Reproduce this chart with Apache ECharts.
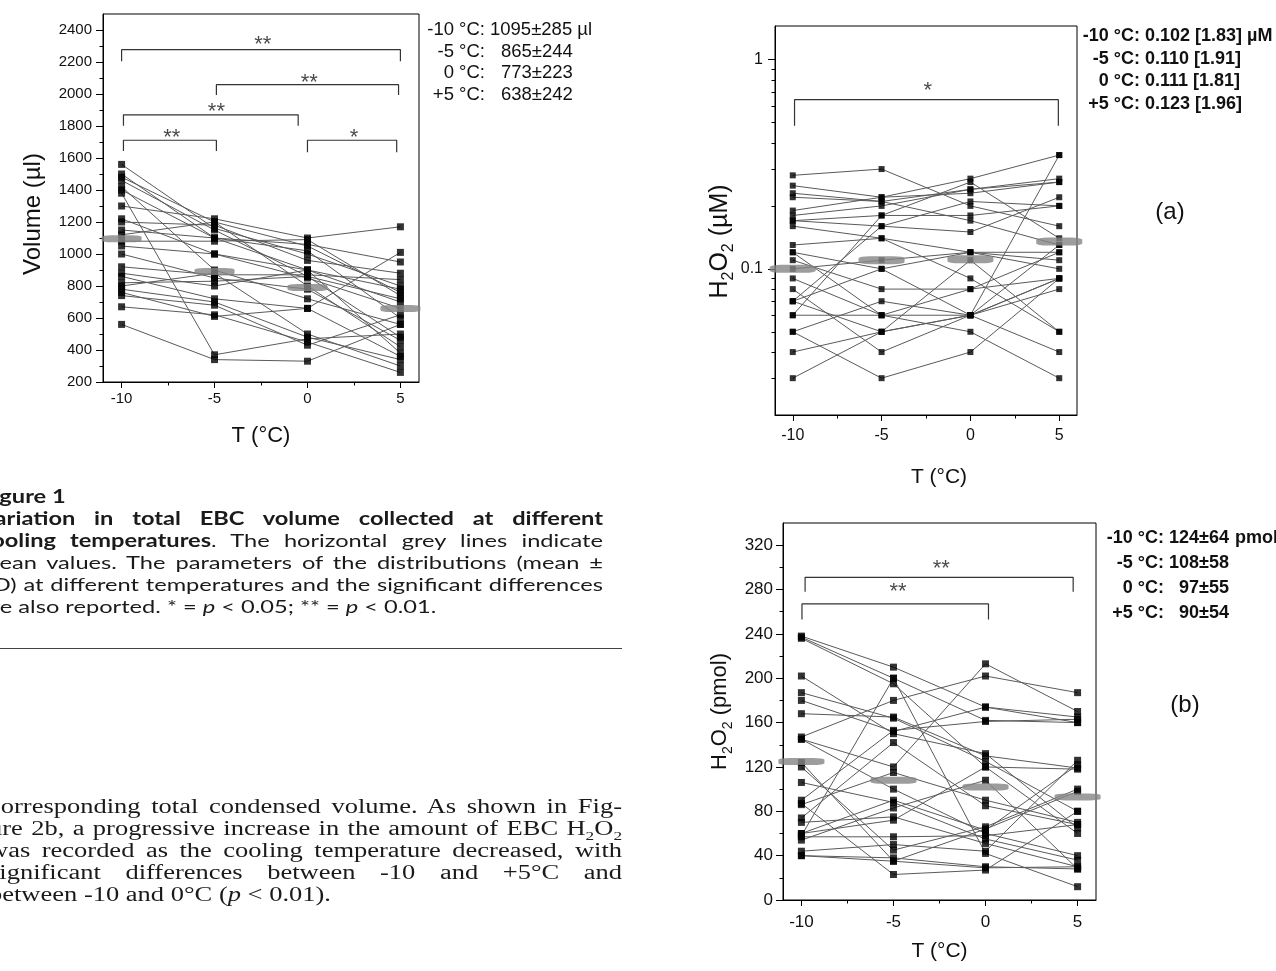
<!DOCTYPE html>
<html>
<head>
<meta charset="utf-8">
<script src="https://cdn.jsdelivr.net/npm/echarts@6/dist/echarts.min.js"></script>
<style>
  html, body { margin: 0; padding: 0; background: #fff; }
  #chart { position: absolute; left: 0; top: 0; width: 1276px; height: 971px; }
  .col { position: absolute; transform-origin: 0 0; color: #1a1a1a; }
  .ln { height: 22px; line-height: 22px; white-space: nowrap; }
  .cap { font-family: Lato, "Open Sans", sans-serif; font-size: 18px; top: 485px; left: -20px; }
  .txt { font-family: "Liberation Serif", "DejaVu Serif", serif; font-size: 20px; top: 795px; left: -11px; }
  #rule { position: absolute; left: 0; top: 648px; width: 622px; border-top: 1px solid #444; }
</style>
</head>
<body>
<div id="chart"></div>

<div class="col cap" id="cap" data-right="603" data-last="482">
  <div class="ln"><span><b>Figure 1</b></span></div>
  <div class="ln j"><span><b>Variation in total EBC volume collected at different</b></span></div>
  <div class="ln j"><span><b>cooling temperatures</b>. The horizontal grey lines indicate</span></div>
  <div class="ln j"><span>mean values. The parameters of the distributions (mean ±</span></div>
  <div class="ln j"><span>SD) at different temperatures and the significant differences</span></div>
  <div class="ln"><span>are also reported. * = <i>p</i> &lt; 0.05; ** = <i>p</i> &lt; 0.01.</span></div>
</div>
<div id="rule"></div>
<div class="col txt" id="txt" data-right="622" data-last="331">
  <div class="ln j"><span>corresponding total condensed volume. As shown in Fig-</span></div>
  <div class="ln j"><span>ure 2b, a progressive increase in the amount of EBC H<sub style="font-size:13px;line-height:0">2</sub>O<sub style="font-size:13px;line-height:0">2</sub></span></div>
  <div class="ln j"><span>was recorded as the cooling temperature decreased, with</span></div>
  <div class="ln j"><span>significant differences between -10 and +5°C and</span></div>
  <div class="ln"><span>between -10 and 0°C (<i>p</i> &lt; 0.01).</span></div>
</div>

<script>
// cooling temperatures (x positions)
const temps = [-10, -5, 0, 5];
const tempTicks = [-10, -5, 0, 5];
const tempMinorTicks = [-7.5, -2.5, 2.5];

// Fig 1: EBC volume (µl) per subject at -10, -5, 0, +5 °C
const volData = [
  [1560, 1160, 1000, 800],
  [1500, 1100, 900, 700],
  [1480, 1200, 1050, 760],
  [1460, 1150, 860, 480],
  [1420, 900, 720, 560],
  [1400, 1100, 1020, 600],
  [1380, 370, 470, 500],
  [1300, 1220, 1100, 1170],
  [1220, 1000, 900, 780],
  [1200, 1180, 960, 880],
  [1150, 1100, 1060, 950],
  [1120, 1200, 800, 420],
  [1080, 1080, 1090, 740],
  [1050, 1000, 850, 660],
  [1000, 850, 780, 460],
  [920, 870, 870, 840],
  [880, 800, 900, 380],
  [860, 720, 660, 1010],
  [820, 830, 860, 720],
  [800, 880, 500, 300],
  [780, 700, 480, 340],
  [760, 610, 660, 360],
  [740, 680, 430, 620],
  [670, 620, 450, 260],
  [560, 340, 330, 560]
];
const volMeans = [1095, 890, 790, 660];
const volTicks = [200, 400, 600, 800, 1000, 1200, 1400, 1600, 1800, 2000, 2200, 2400];
const volMinorTicks = [300, 500, 700, 900, 1100, 1300, 1500, 1700, 1900, 2100, 2300];
// [x from, x to, bracket top, leg end, star x, star y, mark]
const volBrackets = [
  [-10, 5, 2277, 2205, -2.4, 2340, '**'],
  [-4.9, 4.9, 2058, 1993, 0.1, 2100, '**'],
  [-9.9, -0.5, 1870, 1801, -4.9, 1920, '**'],
  [-9.9, -4.9, 1711, 1644, -7.3, 1759, '**'],
  [0, 4.8, 1711, 1636, 2.5, 1759, '*']
];
const volStatLabels = ['-10 °C:', '-5 °C:', '0 °C:', '+5 °C:'];
const volStatValues = ['1095±285 µl', '865±244', '773±223', '638±242'];

// Fig 2a: H2O2 concentration (µM), log scale
const concData = [
  [0.28, 0.30, 0.20, 0.16],
  [0.25, 0.22, 0.23, 0.26],
  [0.23, 0.21, 0.24, 0.27],
  [0.22, 0.21, 0.17, 0.13],
  [0.19, 0.22, 0.27, 0.35],
  [0.18, 0.20, 0.24, 0.26],
  [0.17, 0.18, 0.18, 0.20],
  [0.17, 0.16, 0.15, 0.22],
  [0.16, 0.14, 0.12, 0.10],
  [0.13, 0.14, 0.09, 0.05],
  [0.12, 0.10, 0.12, 0.12],
  [0.12, 0.06, 0.06, 0.09],
  [0.10, 0.11, 0.12, 0.11],
  [0.09, 0.06, 0.05, 0.03],
  [0.08, 0.04, 0.06, 0.35],
  [0.07, 0.16, 0.21, 0.20],
  [0.07, 0.10, 0.06, 0.09],
  [0.06, 0.06, 0.08, 0.09],
  [0.06, 0.18, 0.26, 0.14],
  [0.05, 0.07, 0.06, 0.04],
  [0.05, 0.03, 0.04, 0.09],
  [0.04, 0.05, 0.06, 0.08],
  [0.03, 0.05, 0.06, 0.13],
  [0.11, 0.08, 0.08, 0.12],
  [0.07, 0.05, 0.11, 0.05]
];
const concMeans = [0.100, 0.110, 0.111, 0.135];
const concTicks = [0.1, 1];
const concMinorTicks = [0.03, 0.04, 0.05, 0.06, 0.07, 0.08, 0.09, 0.2, 0.3, 0.4, 0.5, 0.6, 0.7, 0.8, 0.9];
const concBrackets = [
  [-9.9, 4.95, 0.644, 0.484, -2.4, 0.751, '*']
];
const concStatLabels = ['-10 °C:', '-5 °C:', '0 °C:', '+5 °C:'];
const concStatValues = ['0.102 [1.83] µM', '0.110 [1.91]', '0.111 [1.81]', '0.123 [1.96]'];

// Fig 2b: H2O2 amount (pmol)
const amountData = [
  [238, 210, 174, 160],
  [237, 200, 162, 160],
  [236, 195, 120, 60],
  [202, 150, 132, 65],
  [187, 164, 125, 80],
  [180, 152, 174, 165],
  [168, 165, 130, 119],
  [147, 180, 202, 187],
  [145, 120, 213, 170],
  [145, 100, 60, 40],
  [124, 35, 29, 30],
  [106, 88, 55, 36],
  [90, 153, 161, 163],
  [86, 115, 90, 70],
  [74, 142, 85, 68],
  [70, 75, 51, 30],
  [60, 90, 63, 122],
  [57, 57, 58, 68],
  [54, 83, 108, 28],
  [44, 50, 44, 126],
  [40, 38, 30, 28],
  [58, 200, 42, 12],
  [87, 23, 27, 80],
  [40, 35, 64, 98],
  [120, 45, 66, 100],
  [60, 72, 120, 118]
];
const amountMeans = [125, 108, 102, 93];
const amountTicks = [0, 40, 80, 120, 160, 200, 240, 280, 320];
const amountMinorTicks = [20, 60, 100, 140, 180, 220, 260, 300];
const amountBrackets = [
  [-9.8, 4.76, 291, 278, -2.4, 303, '**'],
  [-9.97, 0.16, 267, 253, -4.75, 282, '**']
];
const amountStatLabels = ['-10 °C:', '-5 °C:', '0 °C:', '+5 °C:'];
const amountStatValues = ['124±64', '108±58', '97±55', '90±54'];

const FONT = '"Liberation Sans", Arial, sans-serif';

function plain(v) { return String(v); }

function xAxes(gi, fs, margin, gap, nameSize, namePad) {
  return [{
    type: 'value', gridIndex: gi, min: -11, max: 6, position: 'bottom',
    axisLine: { show: true, onZero: false, lineStyle: { color: '#000', width: 1 } },
    axisTick: { show: true, customValues: tempTicks, length: 6, lineStyle: { color: '#000' } },
    axisLabel: { customValues: tempTicks, fontSize: fs, color: '#111', margin: margin, fontFamily: FONT, formatter: plain },
    splitLine: { show: false },
    name: 'T (°C)', nameLocation: 'middle', nameGap: gap,
    nameTextStyle: { fontSize: nameSize, color: '#111', fontFamily: FONT, padding: namePad }
  }, {
    type: 'value', gridIndex: gi, min: -11, max: 6, position: 'bottom',
    axisLine: { show: false, onZero: false },
    axisTick: { show: true, customValues: tempMinorTicks, length: 3.5, lineStyle: { color: '#000' } },
    axisLabel: { show: false }, splitLine: { show: false }
  }];
}

function yAxes(gi, type, min, max, ticks, minor, fs, margin, name, gap, nameSize, namePad, rich) {
  const base = { type: type, gridIndex: gi, min: min, max: max, position: 'left', splitLine: { show: false } };
  if (type === 'log') base.logBase = 10;
  const label = { customValues: ticks, fontSize: fs, color: '#111', margin: margin, fontFamily: FONT };
  if (type !== 'log') label.formatter = plain;
  return [Object.assign({}, base, {
    axisLine: { show: true, onZero: false, lineStyle: { color: '#000', width: 1 } },
    axisTick: { show: true, customValues: ticks, length: 7, lineStyle: { color: '#000' } },
    axisLabel: label,
    name: name, nameLocation: 'middle', nameGap: gap,
    nameTextStyle: Object.assign({ fontSize: nameSize, color: '#111', fontFamily: FONT, padding: namePad },
                                 rich ? { rich: rich } : {})
  }), Object.assign({}, base, {
    axisLine: { show: false, onZero: false },
    axisTick: { show: true, customValues: minor, length: 3.5, lineStyle: { color: '#000' } },
    axisLabel: { show: false }
  })];
}

function panelSeries(subjects, means, brackets, xi, yi, markSize, barSize, starSize) {
  const out = [];
  subjects.forEach(function (s) {
    out.push({
      type: 'line', xAxisIndex: xi, yAxisIndex: yi, silent: true, z: 2,
      symbol: 'none', lineStyle: { color: '#5a5a5a', width: 1 },
      data: temps.map(function (t, k) { return [t, s[k]]; })
    });
  });
  const pts = [];
  subjects.forEach(function (s) { temps.forEach(function (t, k) { pts.push([t, s[k]]); }); });
  out.push({
    type: 'scatter', xAxisIndex: xi, yAxisIndex: yi, z: 3, silent: true,
    symbol: 'rect', symbolSize: markSize, itemStyle: { color: '#000' }, data: pts
  });
  out.push({
    type: 'scatter', xAxisIndex: xi, yAxisIndex: yi, z: 4, silent: true, clip: false,
    symbol: 'roundRect', symbolSize: barSize, itemStyle: { color: '#858585' },
    data: temps.map(function (t, k) { return [t, means[k]]; })
  });
  brackets.forEach(function (b) {
    out.push({
      type: 'line', xAxisIndex: xi, yAxisIndex: yi, silent: true, z: 2,
      symbol: 'none', lineStyle: { color: '#333', width: 1.2 },
      data: [[b[0], b[3]], [b[0], b[2]], [b[1], b[2]], [b[1], b[3]]]
    });
    out.push({
      type: 'scatter', xAxisIndex: xi, yAxisIndex: yi, silent: true, z: 5,
      symbol: 'rect', symbolSize: 1, itemStyle: { color: 'transparent' },
      label: { show: true, position: 'inside', formatter: b[6], fontSize: starSize, color: '#1a1a1a',
               fontFamily: FONT, offset: [0, Math.round(starSize * 0.24)] },
      data: [[b[4], b[5]]]
    });
  });
  return out;
}

function statText(labels, values, colonX, valueX, y0, dy, font, alignValue) {
  const g = [];
  labels.forEach(function (t, i) {
    g.push({ type: 'text', x: colonX, y: y0 + i * dy,
      style: { text: t, font: font, fill: '#111', align: 'right', verticalAlign: 'middle' } });
    g.push({ type: 'text', x: valueX[i], y: y0 + i * dy,
      style: { text: values[i], font: font, fill: '#111', align: alignValue, verticalAlign: 'middle' } });
  });
  return g;
}

const chart = echarts.init(document.getElementById('chart'), null, { renderer: 'canvas' });

function h2o2Rich(size) {
  return {
    m: { fontSize: size, fontFamily: FONT, color: '#111', lineHeight: size + 8, verticalAlign: 'middle' },
    s: { fontSize: Math.round(size * 0.64), fontFamily: FONT, color: '#111', lineHeight: Math.round(size * 0.64), verticalAlign: 'bottom' }
  };
}

const option = {
  animation: false,
  backgroundColor: '#fff',
  grid: [
    { left: 103, top: 14, width: 316, height: 368, show: true, borderColor: '#000', borderWidth: 1, backgroundColor: 'transparent' },
    { left: 775, top: 26, width: 302, height: 389, show: true, borderColor: '#000', borderWidth: 1, backgroundColor: 'transparent' },
    { left: 783, top: 523, width: 313, height: 377, show: true, borderColor: '#000', borderWidth: 1, backgroundColor: 'transparent' }
  ],
  xAxis: [].concat(
    xAxes(0, 15, 9, 43, 22, 0),
    xAxes(1, 16, 13, 52, 21, [0, 0, 0, 26]),
    xAxes(2, 17, 14, 41, 21, 0)
  ),
  yAxis: [].concat(
    yAxes(0, 'value', 200, 2500, volTicks, volMinorTicks, 15, 11, 'Volume (µl)', 58, 24, [0, 32, 0, 0], null),
    yAxes(1, 'log', 0.02, 1.45, concTicks, concMinorTicks, 16, 12,
          '{m|H}{s|2}{m|O}{s|2}{m| (µM)}', 38, 25, [0, 42, 0, 0], h2o2Rich(25)),
    yAxes(2, 'value', 0, 340, amountTicks, amountMinorTicks, 17, 10,
          '{m|H}{s|2}{m|O}{s|2}{m| (pmol)}', 48, 22, [0, 0, 0, 0], h2o2Rich(22))
  ),
  series: [].concat(
    panelSeries(volData, volMeans, volBrackets, 0, 0, 7, [40, 7], 22),
    panelSeries(concData, concMeans, concBrackets, 2, 2, 6, [46, 8], 22),
    panelSeries(amountData, amountMeans, amountBrackets, 4, 4, 7, [46, 7], 22)
  ),
  graphic: [].concat(
    statText(volStatLabels, volStatValues, 485, [490, 501, 501, 501], 30, 21.5, '18.5px ' + FONT, 'left'),
    statText(concStatLabels, concStatValues, 1140, [1145, 1145, 1145, 1145], 36, 22.7, 'bold 18px ' + FONT, 'left'),
    statText(amountStatLabels, amountStatValues, 1164, [1229, 1229, 1229, 1229], 538, 25, 'bold 18px ' + FONT, 'right'),
    [
      { type: 'text', x: 1235, y: 538, style: { text: 'pmol', font: 'bold 18px ' + FONT, fill: '#111', align: 'left', verticalAlign: 'middle' } },
      { type: 'text', x: 1170, y: 212, style: { text: '(a)', font: '24px ' + FONT, fill: '#111', align: 'center', verticalAlign: 'middle' } },
      { type: 'text', x: 1185, y: 705, style: { text: '(b)', font: '24px ' + FONT, fill: '#111', align: 'center', verticalAlign: 'middle' } }
    ]
  )
};
chart.setOption(option);

// text columns: widen the glyphs (capped so no justified line is squeezed), then justify via word spacing
function fitColumn(id) {
  const col = document.getElementById(id);
  const left = parseFloat(getComputedStyle(col).left);
  const W = parseFloat(col.dataset.right) - left;
  const lastW = parseFloat(col.dataset.last) - left;
  const lines = Array.prototype.slice.call(col.querySelectorAll('.ln'));
  const nat = lines.map(function (l) { return l.firstElementChild.getBoundingClientRect().width; });
  let maxJ = 0;
  lines.forEach(function (l, i) { if (l.classList.contains('j')) maxJ = Math.max(maxJ, nat[i]); });
  const s = Math.min(lastW / nat[lines.length - 1], W / (maxJ + 4));
  col.style.transform = 'scaleX(' + s + ')';
  lines.forEach(function (l, i) {
    if (!l.classList.contains('j')) return;
    const spaces = (l.textContent.match(/ /g) || []).length;
    l.firstElementChild.style.wordSpacing = ((W / s - nat[i]) / spaces) + 'px';
  });
}
fitColumn('cap');
fitColumn('txt');
</script>
</body>
</html>
